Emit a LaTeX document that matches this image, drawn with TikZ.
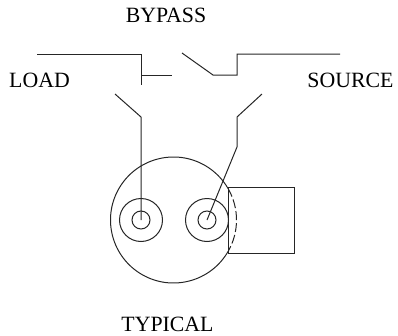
\documentclass[tikz,border=0pt]{standalone}
\usepackage{fontspec}
\setmainfont{Liberation Serif}
\tikzset{wire/.style={line width=1bp,black!85},lbl/.style={inner sep=0pt,anchor=base,font=\fontsize{21.8bp}{24bp}\selectfont}}
\begin{document}
\begin{tikzpicture}[x=1bp,y=-1bp]
\useasboundingbox (0,0) rectangle (398,336);
\node[lbl] (bypass) at (166,22) {BYPASS};
\node[lbl] (load) at (39.5,87) {LOAD};
\node[lbl] (source) at (350.5,87) {SOURCE};
\node[lbl] (typical) at (167.5,331) {TYPICAL};
\draw[wire] (37,54) -- (141,54) -- (141,85);
\draw[wire] (141,75) -- (172,75);
\draw[wire] (182,53) -- (213,75) -- (237,75) -- (237,54) -- (340,54);
\draw[wire] (115,94) -- (141,117) -- (141,220);
\draw[wire] (262,94) -- (237,117) -- (237,147) -- (207,220);
\draw[wire] (173.5,220) ++(30:63) arc[start angle=30,end angle=330,radius=63];
\draw[wire,dash pattern=on 9bp off 3bp] (173.5,220) ++(-30:63) arc[start angle=-30,end angle=30,radius=63];
\draw[wire] (141,220) circle[radius=21.5] (141,220) circle[radius=9];
\draw[wire] (207,220) circle[radius=21.5] (207,220) circle[radius=9];
\draw[wire] (228,187.5) rectangle (294,253);
\end{tikzpicture}
\end{document}
